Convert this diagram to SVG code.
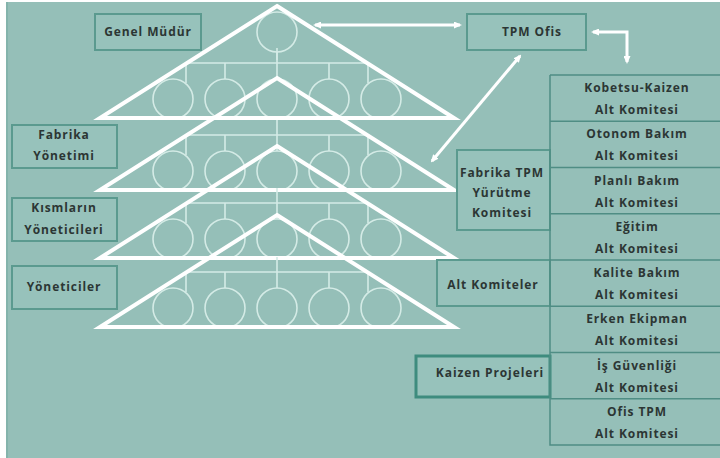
<svg xmlns="http://www.w3.org/2000/svg" width="720" height="458" viewBox="0 0 720 458">
<defs>
<style>
.bg{fill:#95bfb8}
.box{fill:#97c2bb;stroke:#5b9a8f;stroke-width:2}
.kbox{fill:#97c2bb;stroke:#3e8c7e;stroke-width:3}
.col{fill:none;stroke:#4f8d84;stroke-width:1.5}
.tri{fill:none;stroke:#ffffff;stroke-width:4;stroke-linejoin:miter}
.thin{fill:none;stroke:#d4ebe6;stroke-width:1.6}
.t{font-family:"Open Sans","DejaVu Sans",sans-serif;font-weight:700;font-size:12px;letter-spacing:0.9px;fill:#2c3634;text-anchor:middle}
.arr{fill:none;stroke:#ffffff;stroke-width:3;marker-start:url(#ah);marker-end:url(#ah)}
</style>
<marker id="ah" viewBox="0 0 8 7" refX="6" refY="3.5" markerWidth="8" markerHeight="7" markerUnits="userSpaceOnUse" orient="auto-start-reverse">
<path d="M0,0 L8,3.5 L0,7 z" fill="#ffffff"/>
</marker>
<g id="level">
<path class="thin" d="M277 42 V73 M187 57 H367 M186 58 V77 M225 57 V73 M329 57 V73 M368 58 V77"/>
<circle class="thin" cx="173" cy="93" r="20"/>
<circle class="thin" cx="225" cy="93" r="20"/>
<circle class="thin" cx="277" cy="93" r="20"/>
<circle class="thin" cx="329" cy="93" r="20"/>
<circle class="thin" cx="381" cy="93" r="20"/>
<path class="tri" d="M277 0 L454 112 L100 112 Z"/>
</g>
</defs>
<rect x="0" y="0" width="720" height="458" fill="#ffffff"/>
<rect class="bg" x="6" y="2" width="714" height="456"/>
<line x1="7" y1="2" x2="7" y2="458" stroke="#7fb1a8" stroke-width="1.5"/>

<g id="pyramid">
<circle class="thin" cx="277" cy="32" r="20"/>
<line class="thin" x1="277" y1="52" x2="277" y2="60"/>
<use href="#level" x="0" y="6"/>
<use href="#level" x="0" y="78"/>
<use href="#level" x="0" y="146"/>
<use href="#level" x="0" y="215"/>
</g>

<g id="genel-mudur">
<rect class="box" x="95" y="14" width="106" height="36"/>
<text class="t" x="148" y="36">Genel Müdür</text>
</g>
<g id="fabrika-yonetimi">
<rect class="box" x="12" y="125" width="105" height="43"/>
<text class="t" x="64" y="139">Fabrika</text>
<text class="t" x="64" y="160">Yönetimi</text>
</g>
<g id="kisimlarin-yoneticileri">
<rect class="box" x="12" y="198" width="105" height="43"/>
<text class="t" x="64" y="212">Kısmların</text>
<text class="t" x="64" y="234">Yöneticileri</text>
</g>
<g id="yoneticiler">
<rect class="box" x="12" y="266" width="105" height="43"/>
<text class="t" x="64" y="291">Yöneticiler</text>
</g>
<g id="tpm-ofis">
<rect class="box" x="467" y="14" width="119" height="36"/>
<text class="t" x="532" y="36">TPM Ofis</text>
</g>
<g id="fabrika-tpm">
<rect class="box" x="457" y="150" width="93" height="80"/>
<text class="t" x="502" y="177">Fabrika TPM</text>
<text class="t" x="502" y="197">Yürütme</text>
<text class="t" x="502" y="217">Komitesi</text>
</g>
<g id="alt-komiteler">
<rect class="box" x="437" y="260" width="113" height="46"/>
<text class="t" x="493" y="289">Alt Komiteler</text>
</g>
<g id="kaizen-projeleri">
<rect class="kbox" x="416" y="356" width="134" height="41"/>
<text class="t" x="490" y="377">Kaizen Projeleri</text>
</g>

<g id="committees">
<path class="col" d="M550 75 V445 H722 M550 75 H722 M550 121.25 H722 M550 167.5 H722 M550 213.75 H722 M550 260 H722 M550 306.25 H722 M550 352.5 H722 M550 398.75 H722"/>
<g id="c1"><text class="t" x="637" y="92">Kobetsu-Kaizen</text><text class="t" x="637" y="114">Alt Komitesi</text></g>
<g id="c2"><text class="t" x="637" y="138.25">Otonom Bakım</text><text class="t" x="637" y="160.25">Alt Komitesi</text></g>
<g id="c3"><text class="t" x="637" y="184.5">Planlı Bakım</text><text class="t" x="637" y="206.5">Alt Komitesi</text></g>
<g id="c4"><text class="t" x="637" y="230.75">Eğitim</text><text class="t" x="637" y="252.75">Alt Komitesi</text></g>
<g id="c5"><text class="t" x="637" y="277">Kalite Bakım</text><text class="t" x="637" y="299">Alt Komitesi</text></g>
<g id="c6"><text class="t" x="637" y="323.25">Erken Ekipman</text><text class="t" x="637" y="345.25">Alt Komitesi</text></g>
<g id="c7"><text class="t" x="637" y="369.5">İş Güvenliği</text><text class="t" x="637" y="391.5">Alt Komitesi</text></g>
<g id="c8"><text class="t" x="637" y="415.75">Ofis TPM</text><text class="t" x="637" y="437.75">Alt Komitesi</text></g>
</g>

<g id="connectors">
<path class="arr" d="M315 25 H460"/>
<path class="arr" d="M593 32 H627 V62"/>
<path class="arr" d="M520 56 L432 161"/>
</g>
</svg>
